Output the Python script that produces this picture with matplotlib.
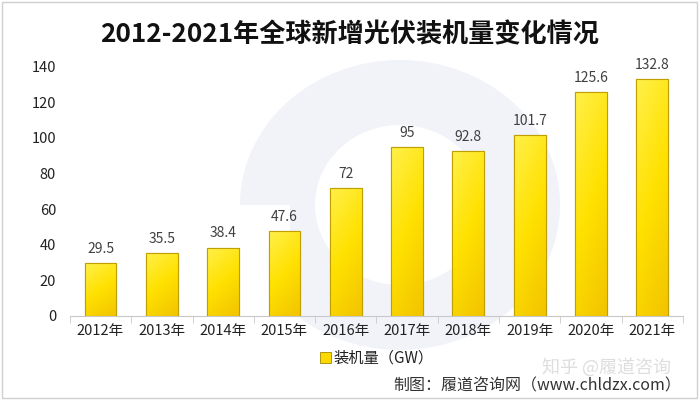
import matplotlib
matplotlib.use("Agg")
import matplotlib.pyplot as plt
import numpy as np
from matplotlib.patches import Rectangle, Ellipse
from matplotlib.colors import LinearSegmentedColormap

plt.rcParams['font.family'] = ['Noto Sans CJK SC', 'DejaVu Sans']

years = ['2012年', '2013年', '2014年', '2015年', '2016年', '2017年', '2018年', '2019年', '2020年', '2021年']
values = [29.5, 35.5, 38.4, 47.6, 72, 95, 92.8, 101.7, 125.6, 132.8]
labels = ['29.5', '35.5', '38.4', '47.6', '72', '95', '92.8', '101.7', '125.6', '132.8']
title = '2012-2021年全球新增光伏装机量变化情况'
legend_label = '装机量（GW）'
source = '制图：履道咨询网（www.chldzx.com）'

fig = plt.figure(figsize=(6.99, 4.01), dpi=100)
fig.patch.set_facecolor('white')
ax = fig.add_axes([0.100, 0.212, 0.877, 0.622])

# faint watermark shape
wm = fig.add_axes([0, 0, 1, 1], zorder=-1)
wm.set_xlim(0, 699); wm.set_ylim(401, 0); wm.axis('off')
wm.add_patch(Ellipse((400, 205), 320, 290, facecolor='#f1f3f8', edgecolor='none'))
wm.add_patch(Ellipse((400, 205), 170, 160, facecolor='white', edgecolor='none'))
wm.add_patch(Rectangle((200, 205), 90, 140, facecolor='white', edgecolor='none'))
wm.add_patch(Rectangle((2, 2), 695, 396, facecolor='none', edgecolor='#d0d0d0', lw=1))
ax.patch.set_alpha(0)

x = np.arange(len(years))
bars = ax.bar(x, values, width=0.52, color='#FFE21A', edgecolor='#BFA000', linewidth=0.8, zorder=2)

cmap = LinearSegmentedColormap.from_list('g', ['#FFF04A', '#FFE100', '#F2C400'])
grad = np.linspace(0, 1, 100).reshape(100, 1)
grad = grad + np.linspace(0, 0.4, 30).reshape(1, 30)
for b in bars:
    bx, by, bw, bh = b.get_x(), b.get_y(), b.get_width(), b.get_height()
    im = ax.imshow(grad, cmap=cmap, extent=[bx, bx + bw, by, by + bh], origin='upper',
                   aspect='auto', zorder=2.5, vmin=0, vmax=1.4)
    im.set_clip_path(b)
    ax.add_patch(Rectangle((bx, by), bw, bh, facecolor='none', edgecolor='#BFA000', lw=0.8, zorder=3))

for xi, v, lab in zip(x, values, labels):
    ax.text(xi, v + 4, lab, ha='center', va='bottom', fontsize=10, color='#404040')

ax.set_xlim(-0.5, len(years) - 0.5)
ax.set_ylim(0, 140)
ax.set_yticks(np.arange(0, 141, 20))
ax.set_xticks(x)
ax.set_xticklabels(years)
ax.set_xticks(np.arange(-0.5, len(years), 1), minor=True)
ax.tick_params(axis='x', which='major', length=0, labelsize=10.5, colors='#222222', pad=6)
ax.tick_params(axis='x', which='minor', length=5, color='#c8c8c8')
ax.tick_params(axis='y', length=0, labelsize=10.5, colors='#222222', pad=10)
for s in ['top', 'right', 'left']:
    ax.spines[s].set_visible(False)
ax.spines['bottom'].set_color('#c8c8c8')
ax.set_ylim(0, 140)

fig.text(0.50, 0.913, title, ha='center', va='center', fontsize=18.8, fontweight='bold', color='#111111')

# legend
fig.patches.append(Rectangle((0.458, 0.095), 0.015, 0.026, transform=fig.transFigure,
                             facecolor='#FFD800', edgecolor='#A08800', lw=0.6, figure=fig))
fig.text(0.477, 0.108, legend_label, ha='left', va='center', fontsize=11, color='#222222')
fig.text(0.868, 0.085, '知乎 @履道咨询', ha='center', va='center', fontsize=13, color='#dedede')
fig.text(0.975, 0.038, source, ha='right', va='center', fontsize=11.5, color='#333333')

fig.savefig('out.png', dpi=100)
